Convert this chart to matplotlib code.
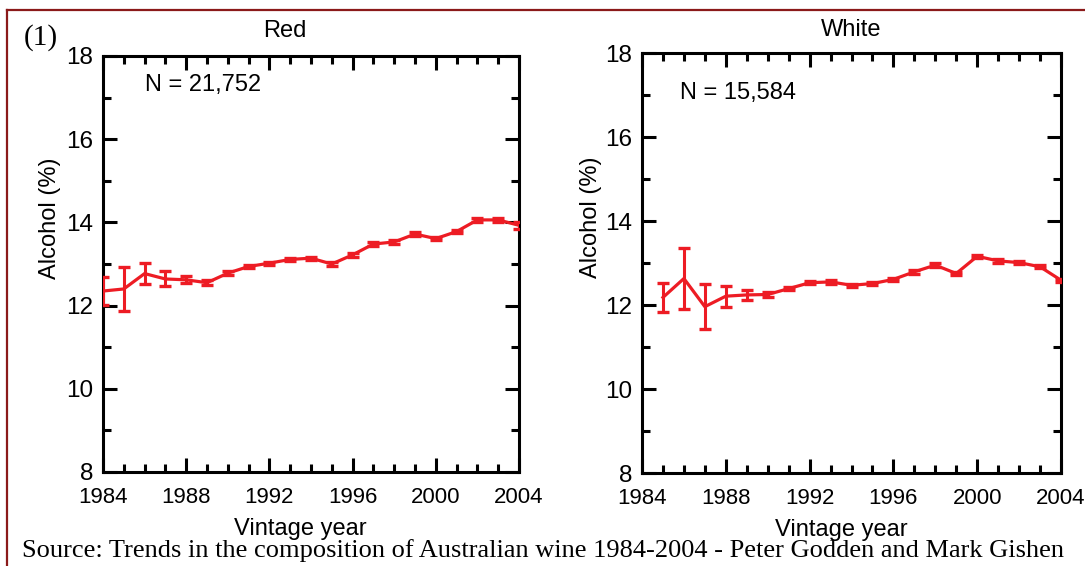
import matplotlib
matplotlib.use("Agg")
import matplotlib.pyplot as plt
from matplotlib.lines import Line2D
from matplotlib.ticker import MultipleLocator

# ---------- data ----------
red_years = list(range(1984, 2005))
red_alcohol = [12.35, 12.40, 12.77, 12.64, 12.62, 12.55, 12.78, 12.94, 13.02, 13.11,
               13.14, 13.00, 13.22, 13.48, 13.53, 13.72, 13.61, 13.78, 14.06, 14.06, 13.93]
red_err = [0.33, 0.52, 0.26, 0.18, 0.08, 0.06, 0.05, 0.04, 0.04, 0.04,
           0.04, 0.04, 0.04, 0.04, 0.04, 0.04, 0.04, 0.04, 0.04, 0.04, 0.08]

white_years = list(range(1985, 2005))
white_alcohol = [12.18, 12.63, 11.96, 12.21, 12.24, 12.25, 12.39, 12.53, 12.55, 12.47,
                 12.51, 12.61, 12.79, 12.95, 12.75, 13.16, 13.05, 13.01, 12.91, 12.59]
white_err = [0.34, 0.72, 0.53, 0.25, 0.11, 0.07, 0.04, 0.04, 0.04, 0.04,
             0.04, 0.04, 0.04, 0.04, 0.04, 0.04, 0.04, 0.04, 0.04, 0.04]

panels = [
    ("Red", "N = 21,752", red_years, red_alcohol, red_err),
    ("White", "N = 15,584", white_years, white_alcohol, white_err),
]

LINE_RED = "#ed1c24"
FRAME = "#8b1a1a"
SANS = ["Liberation Sans", "DejaVu Sans"]
SERIF = ["Liberation Serif", "DejaVu Serif"]

plt.rcParams["font.family"] = SANS

fig = plt.figure(figsize=(10.85, 5.66), dpi=100)
fig.patch.set_facecolor("white")

W, H = 1085, 566
# axes boxes in pixels (left, top, right, bottom) + per-panel text placement
boxes = [(103, 56, 519, 472), (642, 53, 1061, 473)]
title_x = [0.4375, 0.5]
title_pad = [14, 12]
n_pos = [(0.1, 0.93), (0.09, 0.905)]
ylab_x = [-0.10, -0.095]

for i, ((title, ntext, yrs, vals, errs), (x0, y0, x1, y1)) in enumerate(zip(panels, boxes)):
    ax = fig.add_axes([x0 / W, (H - y1) / H, (x1 - x0) / W, (y1 - y0) / H])
    ax.errorbar(yrs, vals, yerr=errs, color=LINE_RED, lw=2.3, elinewidth=2.2,
                capsize=4.3, capthick=2.4, zorder=3)
    ax.set_xlim(1984, 2004)
    ax.set_ylim(8, 18)
    ax.xaxis.set_major_locator(MultipleLocator(4))
    ax.xaxis.set_minor_locator(MultipleLocator(1))
    ax.yaxis.set_major_locator(MultipleLocator(2))
    ax.yaxis.set_minor_locator(MultipleLocator(1))
    for s in ax.spines.values():
        s.set_linewidth(2.2)
    ax.tick_params(which="both", direction="in", top=True, right=True, width=2.2)
    ax.tick_params(which="major", length=10)
    ax.tick_params(which="minor", length=6)
    ax.tick_params(axis="x", pad=11, labelsize=16)
    ax.tick_params(axis="y", pad=7, labelsize=17.5)
    ax.set_title(title, fontsize=17, pad=title_pad[i], x=title_x[i])
    ax.text(n_pos[i][0], n_pos[i][1], ntext, transform=ax.transAxes, fontsize=17,
            va="center", ha="left")
    ax.set_ylabel("Alcohol (%)", fontsize=17)
    ax.yaxis.set_label_coords(ylab_x[i], 0.61)
    ax.set_xlabel("Vintage year", fontsize=17)
    ax.xaxis.set_label_coords(0.475, -0.11)

# panel label and source line
fig.text(24 / W, 1 - 38 / H, "(1)", family=SERIF, fontsize=21, va="center", ha="left")
fig.text(22 / W, 1 - 551 / H, "Source: Trends in the composition of Australian wine 1984-2004 - "
         "Peter Godden and Mark Gishen", family=SERIF, fontsize=19, va="center", ha="left")

# dark red frame: left and top edges
fig.add_artist(Line2D([7 / W, 7 / W], [0, 1 - 10 / H], transform=fig.transFigure,
                      color=FRAME, lw=1.6))
fig.add_artist(Line2D([7 / W, 1], [1 - 10 / H, 1 - 10 / H], transform=fig.transFigure,
                      color=FRAME, lw=1.6))

fig.savefig("out.png", dpi=100)
